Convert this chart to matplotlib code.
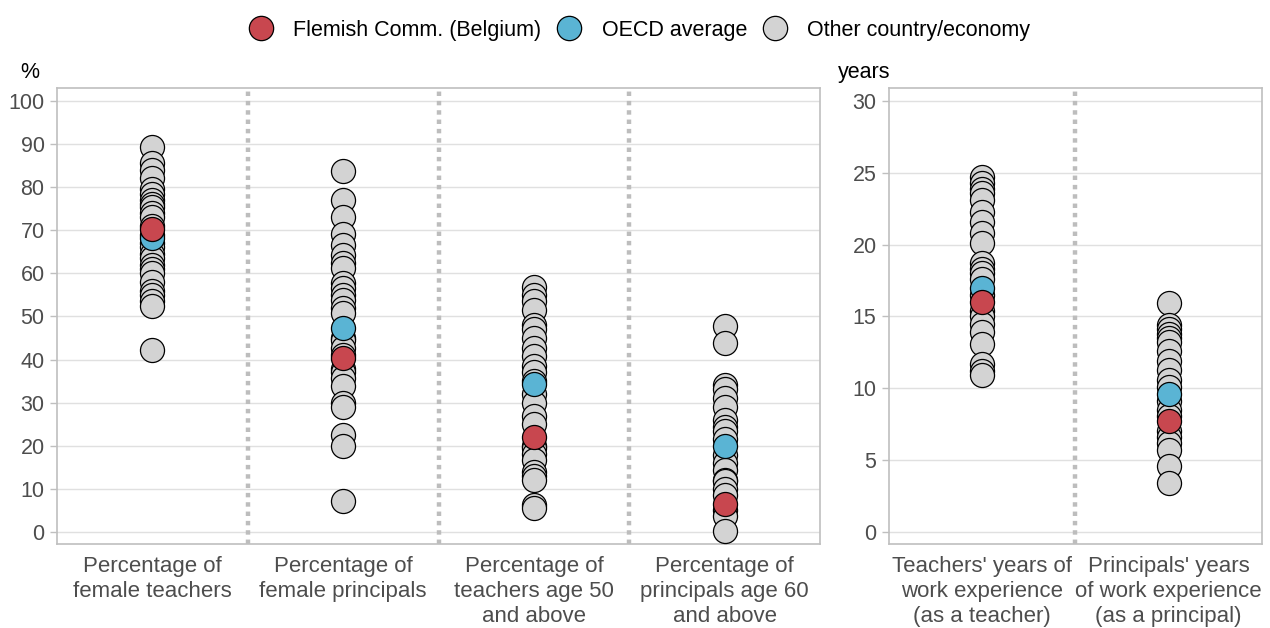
import matplotlib.pyplot as plt
from matplotlib.lines import Line2D

plt.rcParams['font.family'] = ['Liberation Sans', 'DejaVu Sans']

RED = "#c8474f"
BLUE = "#5ab4d4"
GREY = "#d3d3d3"

left_labels = ["Percentage of\nfemale teachers",
               "Percentage of\nfemale principals",
               "Percentage of\nteachers age 50\nand above",
               "Percentage of\nprincipals age 60\nand above"]
right_labels = ["Teachers' years of\nwork experience\n(as a teacher)",
                "Principals' years\nof work experience\n(as a principal)"]

# other countries / economies
female_teachers = [89.2, 85.5, 84, 82, 79.5, 78.5, 77, 76, 75.5, 74, 73, 71, 69, 67,
                   66, 64.5, 63.5, 62, 61, 60, 58, 56, 55, 53.5, 52.5, 42.2]
female_principals = [83.8, 76.9, 73, 69.2, 66.5, 64.2, 62.3, 61.2, 57.7, 56.5, 55, 53.8,
                     52, 50.8, 45, 44.6, 42.7, 41, 37.7, 37, 35.8, 33.8, 30, 29, 22.5,
                     20, 7.2]
teachers_50 = [56.8, 55, 53.5, 51.5, 48, 47, 45, 42.6, 40.7, 38.4, 37, 35, 32, 29.9,
               26.8, 25, 20, 19.4, 18, 16.7, 14, 12.9, 12, 6.3, 5.5]
principals_60 = [47.8, 43.8, 34, 33.2, 31, 29, 26, 24.4, 23.3, 21.5, 17.9, 16, 14.4,
                 12, 11.7, 10, 8.6, 5, 3.6, 0.2]
teacher_years = [24.7, 24.3, 23.9, 23.6, 23.1, 22.3, 21.6, 20.8, 20.1, 18.7, 18.3, 18,
                 17.6, 16.5, 15.4, 15, 14.5, 13.9, 13.1, 11.7, 11.2, 10.9]
principal_years = [15.9, 14.4, 14.1, 13.8, 13.5, 13.2, 12.6, 11.9, 11.3, 10.6, 10.1,
                   9.1, 8.5, 8.1, 7, 6.6, 6.2, 5.7, 4.6, 3.4]

left_others = [female_teachers, female_principals, teachers_50, principals_60]
right_others = [teacher_years, principal_years]

left_oecd = [68.2, 47.3, 34.3, 20.0]
left_flemish = [70.2, 40.4, 22.1, 6.5]
right_oecd = [17.0, 9.6]
right_flemish = [16.0, 7.7]

fig = plt.figure(figsize=(12.7, 6.28), dpi=100)
axL = fig.add_axes([0.0449, 0.1338, 0.6008, 0.7261])
axR = fig.add_axes([0.700, 0.1338, 0.2937, 0.7261])

S = 300
FS = 15.5


def draw(ax, others, oecd, flemish, labels, yticks, ylim):
    for i, vals in enumerate(others):
        ax.scatter([i] * len(vals), vals, s=S, color=GREY, edgecolor="black",
                   linewidth=0.9, zorder=3)
    ax.scatter(range(len(oecd)), oecd, s=S, color=BLUE, edgecolor="black",
               linewidth=0.9, zorder=4)
    ax.scatter(range(len(flemish)), flemish, s=S, color=RED, edgecolor="black",
               linewidth=0.9, zorder=5)
    n = len(labels)
    for k in range(n - 1):
        ax.axvline(k + 0.5, color="#bdbdbd", lw=3.2, dashes=(1, 1.1), zorder=1)
    ax.set_xlim(-0.5, n - 0.5)
    ax.set_ylim(*ylim)
    ax.set_yticks(yticks)
    ax.set_xticks(range(n))
    ax.set_xticklabels(labels, fontsize=16, color="#4d4d4d", linespacing=1.22)
    ax.tick_params(axis="y", labelsize=FS, labelcolor="#4d4d4d", length=5,
                   color="#bfbfbf", width=1, pad=4)
    ax.tick_params(axis="x", length=0, pad=9)
    ax.yaxis.grid(True, color="#e0e0e0", lw=1, zorder=0)
    ax.set_axisbelow(True)
    for sp in ax.spines.values():
        sp.set_color("#bfbfbf")
        sp.set_linewidth(1.2)


draw(axL, left_others, left_oecd, left_flemish, left_labels,
     range(0, 101, 10), (-2.8, 103.0))
draw(axR, right_others, right_oecd, right_flemish, right_labels,
     range(0, 31, 5), (-0.84, 30.9))

fig.text(20 / 1270, 0.884, "%", ha="left", va="center", fontsize=FS)
fig.text(838 / 1270, 0.884, "years", ha="left", va="center", fontsize=FS)

handles = [Line2D([], [], marker="o", ls="", markersize=17.5, markerfacecolor=c,
                  markeredgecolor="black", markeredgewidth=0.9)
           for c in (RED, BLUE, GREY)]
fig.legend(handles, ["Flemish Comm. (Belgium)", "OECD average", "Other country/economy"],
           loc="center", bbox_to_anchor=(0.5, 0.952), ncol=3, frameon=False,
           fontsize=15.5, handletextpad=0.5, columnspacing=0.3)

fig.savefig("out.png", dpi=100)
